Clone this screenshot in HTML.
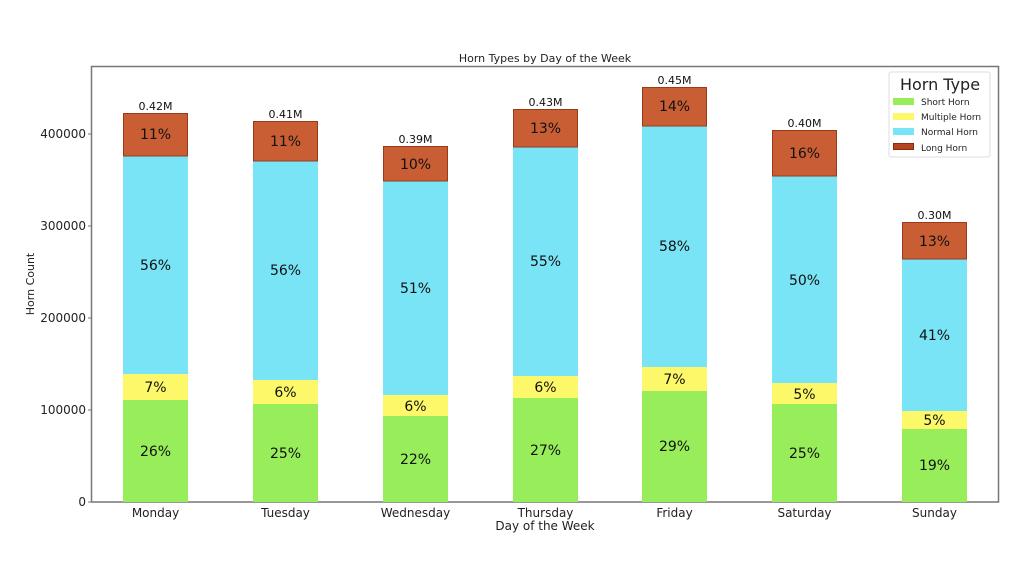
<!DOCTYPE html>
<html><head><meta charset="utf-8"><style>
html,body{margin:0;padding:0;background:#fff;}
svg{display:block;font-family:"DejaVu Sans","Liberation Sans",sans-serif;}
</style></head><body>
<svg width="1024" height="576" viewBox="0 0 1024 576" xmlns="http://www.w3.org/2000/svg">
<rect width="1024" height="576" fill="#fff"/>
<text x="545" y="62" font-size="11" text-anchor="middle" fill="#222">Horn Types by Day of the Week</text>
<rect x="91.5" y="66.5" width="907" height="435.5" fill="none" stroke="#777" stroke-width="1.5"/>
<g font-size="12" fill="#222" text-anchor="end">
<text x="86" y="506">0</text><line x1="88" y1="502" x2="91" y2="502" stroke="#777"/>
<text x="86" y="414">100000</text><line x1="88" y1="410" x2="91" y2="410" stroke="#777"/>
<text x="86" y="322">200000</text><line x1="88" y1="318" x2="91" y2="318" stroke="#777"/>
<text x="86" y="230">300000</text><line x1="88" y1="226" x2="91" y2="226" stroke="#777"/>
<text x="86" y="138">400000</text><line x1="88" y1="134" x2="91" y2="134" stroke="#777"/>
</g>
<text transform="translate(34,284) rotate(-90)" font-size="11" text-anchor="middle" fill="#222">Horn Count</text>
<text x="545" y="530" font-size="12" text-anchor="middle" fill="#222">Day of the Week</text>
<g id="bars" font-size="14" text-anchor="middle" fill="#111">
<!-- Monday -->
<g transform="translate(123,0)">
<rect x="0" y="400" width="65" height="102" fill="#98ee5a"/><rect x="0" y="374" width="65" height="26" fill="#fdf86a"/>
<rect x="0" y="156" width="65" height="218" fill="#79e4f6"/><rect x="0.5" y="113.5" width="64" height="42.5" fill="#c95e35" stroke="#9a3a1a"/>
<text x="32.5" y="456">26%</text><text x="32.5" y="392">7%</text><text x="32.5" y="270">56%</text><text x="32.5" y="139">11%</text>
<text x="32.5" y="110" font-size="11">0.42M</text></g>
<!-- Tuesday -->
<g transform="translate(253,0)">
<rect x="0" y="404" width="65" height="98" fill="#98ee5a"/><rect x="0" y="380" width="65" height="24" fill="#fdf86a"/>
<rect x="0" y="161" width="65" height="219" fill="#79e4f6"/><rect x="0.5" y="121.5" width="64" height="39.5" fill="#c95e35" stroke="#9a3a1a"/>
<text x="32.5" y="458">25%</text><text x="32.5" y="397">6%</text><text x="32.5" y="275">56%</text><text x="32.5" y="146">11%</text>
<text x="32.5" y="118" font-size="11">0.41M</text></g>
<!-- Wednesday -->
<g transform="translate(383,0)">
<rect x="0" y="416" width="65" height="86" fill="#98ee5a"/><rect x="0" y="395" width="65" height="21" fill="#fdf86a"/>
<rect x="0" y="181" width="65" height="214" fill="#79e4f6"/><rect x="0.5" y="146.5" width="64" height="34.5" fill="#c95e35" stroke="#9a3a1a"/>
<text x="32.5" y="464">22%</text><text x="32.5" y="411">6%</text><text x="32.5" y="293">51%</text><text x="32.5" y="169">10%</text>
<text x="32.5" y="143" font-size="11">0.39M</text></g>
<!-- Thursday -->
<g transform="translate(513,0)">
<rect x="0" y="398" width="65" height="104" fill="#98ee5a"/><rect x="0" y="376" width="65" height="22" fill="#fdf86a"/>
<rect x="0" y="147" width="65" height="229" fill="#79e4f6"/><rect x="0.5" y="109.5" width="64" height="37.5" fill="#c95e35" stroke="#9a3a1a"/>
<text x="32.5" y="455">27%</text><text x="32.5" y="392">6%</text><text x="32.5" y="266">55%</text><text x="32.5" y="133">13%</text>
<text x="32.5" y="106" font-size="11">0.43M</text></g>
<!-- Friday -->
<g transform="translate(642,0)">
<rect x="0" y="391" width="65" height="111" fill="#98ee5a"/><rect x="0" y="367" width="65" height="24" fill="#fdf86a"/>
<rect x="0" y="126" width="65" height="241" fill="#79e4f6"/><rect x="0.5" y="87.5" width="64" height="38.5" fill="#c95e35" stroke="#9a3a1a"/>
<text x="32.5" y="451">29%</text><text x="32.5" y="384">7%</text><text x="32.5" y="251">58%</text><text x="32.5" y="111">14%</text>
<text x="32.5" y="84" font-size="11">0.45M</text></g>
<!-- Saturday -->
<g transform="translate(772,0)">
<rect x="0" y="404" width="65" height="98" fill="#98ee5a"/><rect x="0" y="383" width="65" height="21" fill="#fdf86a"/>
<rect x="0" y="176" width="65" height="207" fill="#79e4f6"/><rect x="0.5" y="130.5" width="64" height="45.5" fill="#c95e35" stroke="#9a3a1a"/>
<text x="32.5" y="458">25%</text><text x="32.5" y="399">5%</text><text x="32.5" y="285">50%</text><text x="32.5" y="158">16%</text>
<text x="32.5" y="127" font-size="11">0.40M</text></g>
<!-- Sunday -->
<g transform="translate(902,0)">
<rect x="0" y="429" width="65" height="73" fill="#98ee5a"/><rect x="0" y="411" width="65" height="18" fill="#fdf86a"/>
<rect x="0" y="259" width="65" height="152" fill="#79e4f6"/><rect x="0.5" y="222.5" width="64" height="36.5" fill="#c95e35" stroke="#9a3a1a"/>
<text x="32.5" y="470">19%</text><text x="32.5" y="425">5%</text><text x="32.5" y="340">41%</text><text x="32.5" y="246">13%</text>
<text x="32.5" y="219" font-size="11">0.30M</text></g>
</g>
<g font-size="12" text-anchor="middle" fill="#222">
<text x="155.5" y="517">Monday</text><text x="285.5" y="517">Tuesday</text><text x="415.5" y="517">Wednesday</text>
<text x="545.5" y="517">Thursday</text><text x="674.5" y="517">Friday</text><text x="804.5" y="517">Saturday</text><text x="934.5" y="517">Sunday</text>
</g>
<g>
<rect x="889" y="72" width="101" height="85" fill="#fff" stroke="#ddd" rx="2"/>
<text x="940" y="90" font-size="16" text-anchor="middle" fill="#222">Horn Type</text>
<rect x="893" y="98" width="21" height="7" fill="#98ee5a"/>
<rect x="893" y="113" width="21" height="7" fill="#fdf86a"/>
<rect x="893" y="128" width="21" height="7" fill="#79e4f6"/>
<rect x="893.5" y="143.5" width="20" height="6" fill="#b5461f" stroke="#8a2a10"/>
<g font-size="9" fill="#222"><text x="921" y="105">Short Horn</text><text x="921" y="120">Multiple Horn</text><text x="921" y="135">Normal Horn</text><text x="921" y="151">Long Horn</text></g>
</g>
</svg>
</body></html>
